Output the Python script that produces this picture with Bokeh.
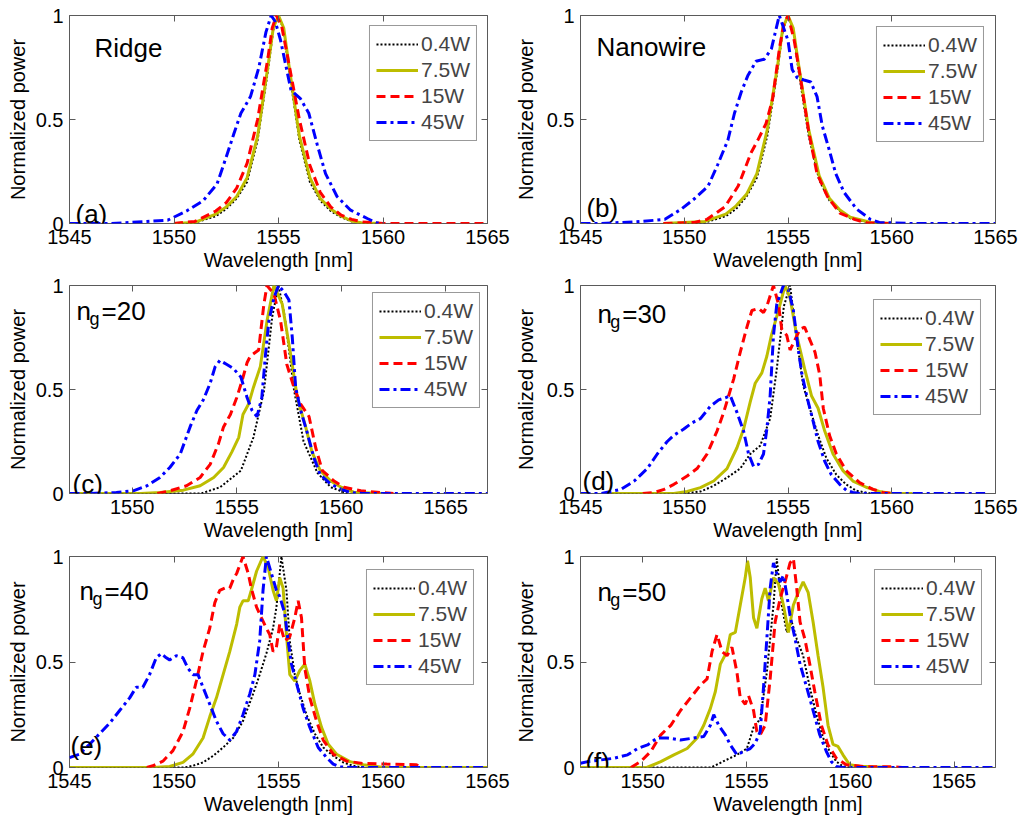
from bokeh.plotting import figure
from bokeh.layouts import column, row
from bokeh.models import Range1d, FixedTicker, LinearAxis, Legend, LegendItem, Label
from bokeh.embed import file_html
from bokeh.resources import INLINE

FONT = "Liberation Sans"
SERIES = ["0.4W", "7.5W", "15W", "45W"]
Y_TICKS = [0, 0.5, 1]
X_TICKS_A = [1545, 1550, 1555, 1560, 1565]
X_TICKS_B = [1550, 1555, 1560, 1565]

# ---------------- (a) Ridge ----------------
A_X_04 = [1550, 1551, 1552, 1552.5, 1553, 1553.5, 1554, 1554.5, 1554.75, 1555, 1555.25, 1555.5, 1556, 1556.5, 1557, 1557.5, 1558, 1558.5, 1559, 1560]
A_Y_04 = [0, 0.004, 0.035, 0.07, 0.12, 0.2, 0.4, 0.74, 0.93, 1.0, 0.93, 0.74, 0.4, 0.2, 0.11, 0.06, 0.03, 0.01, 0.002, 0]
A_X_75 = [1550, 1551, 1552, 1552.5, 1553, 1553.5, 1554, 1554.5, 1554.75, 1555, 1555.25, 1555.5, 1556, 1556.5, 1557, 1557.5, 1558, 1558.5, 1559, 1560]
A_Y_75 = [0, 0.005, 0.045, 0.08, 0.13, 0.22, 0.42, 0.76, 0.94, 1.0, 0.94, 0.76, 0.42, 0.22, 0.12, 0.07, 0.035, 0.012, 0.003, 0]
A_X_15 = [1550, 1551, 1552, 1552.5, 1553, 1553.5, 1554, 1554.5, 1554.7, 1554.9, 1555.15, 1555.4, 1556, 1556.5, 1557, 1557.5, 1558, 1558.5, 1559, 1560, 1565]
A_Y_15 = [0, 0.01, 0.06, 0.1, 0.17, 0.29, 0.5, 0.8, 0.94, 1.0, 0.95, 0.82, 0.5, 0.28, 0.15, 0.08, 0.04, 0.02, 0.008, 0, 0]
A_X_45 = [1545, 1547, 1548.7, 1549.7, 1550.6, 1551.4, 1552.06, 1552.5, 1552.86, 1553.2, 1553.66, 1554.06, 1554.4, 1554.65, 1554.85, 1555.1, 1555.6, 1556.05, 1556.45, 1556.85, 1557.25, 1557.8, 1558.45, 1559.25, 1559.7, 1560]
A_Y_45 = [0, 0, 0.01, 0.016, 0.06, 0.11, 0.19, 0.32, 0.43, 0.53, 0.61, 0.75, 0.92, 1.0, 0.97, 0.88, 0.64, 0.6, 0.53, 0.38, 0.24, 0.13, 0.064, 0.024, 0.003, 0]

# ---------------- (b) Nanowire ----------------
B_X_04 = [1549, 1551, 1552, 1552.5, 1553, 1553.5, 1554, 1554.5, 1554.75, 1555, 1555.25, 1555.5, 1556, 1556.5, 1557, 1557.5, 1558, 1559, 1560]
B_Y_04 = [0, 0.005, 0.035, 0.07, 0.13, 0.22, 0.42, 0.74, 0.93, 1.0, 0.93, 0.74, 0.42, 0.21, 0.11, 0.06, 0.025, 0.003, 0]
B_X_75 = [1549, 1551, 1552, 1552.5, 1553, 1553.5, 1554, 1554.5, 1554.75, 1555, 1555.25, 1555.5, 1556, 1556.5, 1557, 1557.5, 1558, 1559, 1560]
B_Y_75 = [0, 0.01, 0.045, 0.085, 0.14, 0.24, 0.45, 0.76, 0.94, 1.0, 0.94, 0.77, 0.45, 0.23, 0.12, 0.065, 0.03, 0.005, 0]
B_X_15 = [1549, 1550.5, 1551.1, 1551.96, 1552.6, 1553.22, 1553.54, 1553.94, 1554.26, 1554.6, 1554.8, 1555.0, 1555.3, 1555.6, 1556.0, 1556.4, 1556.9, 1557.5, 1558.2, 1558.8, 1560]
B_Y_15 = [0, 0.005, 0.02, 0.08, 0.18, 0.34, 0.4, 0.48, 0.6, 0.85, 0.96, 1.0, 0.88, 0.7, 0.44, 0.24, 0.13, 0.05, 0.02, 0.003, 0]
B_X_45 = [1545, 1546, 1547.95, 1549.07, 1549.87, 1550.5, 1551.15, 1551.6, 1552.1, 1552.42, 1552.74, 1553.06, 1553.46, 1553.86, 1554.2, 1554.58, 1555.0, 1555.2, 1555.45, 1555.77, 1556.1, 1556.4, 1556.65, 1556.97, 1557.3, 1557.7, 1558.3, 1558.97, 1559.4, 1561, 1565]
B_Y_45 = [0, 0, 0.01, 0.02, 0.07, 0.12, 0.18, 0.28, 0.4, 0.53, 0.63, 0.71, 0.78, 0.79, 0.84, 1.0, 0.88, 0.74, 0.7, 0.69, 0.68, 0.61, 0.47, 0.36, 0.24, 0.15, 0.07, 0.02, 0.005, 0, 0]

# ---------------- (c) ng=20 ----------------
C_X_04 = [1547, 1553.3, 1554.2, 1555.2, 1555.8, 1556.3, 1556.7, 1557.0, 1557.3, 1557.74, 1558.2, 1558.86, 1559.5, 1560.3]
C_Y_04 = [0, 0, 0.03, 0.11, 0.27, 0.49, 0.85, 1.0, 0.85, 0.5, 0.25, 0.1, 0.03, 0]
C_X_75 = [1547, 1550.4, 1551.33, 1552.45, 1553.25, 1553.9, 1554.37, 1554.77, 1555.1, 1555.3, 1555.57, 1555.8, 1556.13, 1556.45, 1556.78, 1557.18, 1557.58, 1557.9, 1558.3, 1558.6, 1559.0, 1559.5, 1560.0, 1560.6, 1562]
C_Y_75 = [0, 0, 0.005, 0.016, 0.037, 0.077, 0.125, 0.2, 0.27, 0.38, 0.43, 0.51, 0.61, 0.83, 1.0, 0.91, 0.67, 0.46, 0.32, 0.2, 0.11, 0.06, 0.03, 0.006, 0]
C_X_15 = [1551.2, 1551.8, 1552.6, 1553.25, 1553.73, 1554.13, 1554.37, 1554.7, 1555.0, 1555.25, 1555.5, 1555.65, 1556.05, 1556.3, 1556.45, 1556.78, 1557.1, 1557.4, 1557.74, 1558.06, 1558.46, 1558.78, 1559.1, 1559.66, 1560.14, 1560.94, 1561.9, 1562.5]
C_Y_15 = [0, 0.013, 0.037, 0.077, 0.14, 0.24, 0.32, 0.38, 0.46, 0.54, 0.63, 0.66, 0.69, 0.91, 1.0, 0.96, 0.83, 0.62, 0.51, 0.43, 0.37, 0.22, 0.11, 0.06, 0.03, 0.013, 0.005, 0]
C_X_45 = [1547, 1548, 1549.24, 1550.05, 1550.7, 1551.33, 1551.8, 1552.3, 1552.77, 1553.1, 1553.4, 1553.73, 1553.97, 1554.2, 1554.53, 1554.85, 1555.2, 1555.5, 1555.73, 1555.97, 1556.2, 1556.38, 1556.54, 1556.78, 1557.0, 1557.26, 1557.5, 1557.66, 1557.82, 1558.06, 1558.38, 1558.7, 1559.0, 1559.5, 1560.0, 1560.46, 1561, 1567]
C_Y_45 = [0, 0, 0.005, 0.013, 0.037, 0.077, 0.125, 0.19, 0.32, 0.4, 0.45, 0.53, 0.61, 0.64, 0.62, 0.6, 0.56, 0.46, 0.4, 0.37, 0.46, 0.67, 0.83, 0.94, 1.0, 0.97, 0.93, 0.75, 0.51, 0.4, 0.29, 0.17, 0.09, 0.045, 0.02, 0.005, 0, 0]

# ---------------- (d) ng=30 ----------------
D_X_04 = [1546.5, 1550, 1550.8, 1551.4, 1552.06, 1552.7, 1553.18, 1553.66, 1554.14, 1554.46, 1554.8, 1555.1, 1555.4, 1555.73, 1556.05, 1556.45, 1556.85, 1557.33, 1557.8, 1558.3, 1559]
D_Y_04 = [0, 0, 0.01, 0.036, 0.076, 0.12, 0.19, 0.23, 0.36, 0.6, 0.9, 1.0, 0.76, 0.52, 0.41, 0.28, 0.17, 0.09, 0.044, 0.013, 0]
D_X_75 = [1546.5, 1549.5, 1550.14, 1550.78, 1551.42, 1552.06, 1552.54, 1552.86, 1553.18, 1553.42, 1553.74, 1553.98, 1554.2, 1554.54, 1554.86, 1555.1, 1555.42, 1555.8, 1556.13, 1556.45, 1556.77, 1557.17, 1557.65, 1558.13, 1558.77, 1559.4, 1560, 1561]
D_Y_75 = [0, 0, 0.01, 0.028, 0.06, 0.12, 0.22, 0.31, 0.44, 0.53, 0.58, 0.66, 0.76, 0.88, 1.0, 0.94, 0.76, 0.6, 0.47, 0.41, 0.3, 0.19, 0.11, 0.06, 0.03, 0.01, 0, 0]
D_X_15 = [1548, 1548.55, 1549.03, 1549.5, 1550.14, 1550.62, 1551.1, 1551.58, 1551.9, 1552.14, 1552.38, 1552.7, 1553.02, 1553.26, 1553.58, 1553.82, 1553.98, 1554.3, 1554.54, 1554.7, 1554.94, 1555.1, 1555.34, 1555.58, 1555.8, 1556.05, 1556.3, 1556.53, 1556.7, 1557.0, 1557.33, 1557.8, 1558.45, 1559.1, 1559.57, 1560]
D_Y_15 = [0, 0.005, 0.02, 0.044, 0.084, 0.12, 0.19, 0.3, 0.39, 0.47, 0.55, 0.68, 0.8, 0.88, 0.89, 0.87, 0.9, 1.0, 0.91, 0.79, 0.76, 0.69, 0.74, 0.79, 0.8, 0.74, 0.68, 0.57, 0.41, 0.28, 0.19, 0.11, 0.052, 0.02, 0.005, 0]
D_X_45 = [1545, 1546, 1546.47, 1546.95, 1547.59, 1548.22, 1548.7, 1549.18, 1549.5, 1549.98, 1550.38, 1550.78, 1551.26, 1551.66, 1551.98, 1552.22, 1552.54, 1552.86, 1553.1, 1553.34, 1553.58, 1553.82, 1553.98, 1554.14, 1554.3, 1554.46, 1554.78, 1555.02, 1555.26, 1555.5, 1555.66, 1555.9, 1556.13, 1556.45, 1556.77, 1557.09, 1557.49, 1557.81, 1558.13, 1558.5, 1561, 1564.5]
D_Y_45 = [0, 0, 0.01, 0.02, 0.06, 0.12, 0.19, 0.25, 0.28, 0.31, 0.34, 0.36, 0.42, 0.45, 0.46, 0.47, 0.39, 0.3, 0.19, 0.13, 0.14, 0.19, 0.31, 0.47, 0.76, 0.91, 1.0, 0.98, 0.88, 0.69, 0.58, 0.47, 0.38, 0.25, 0.155, 0.09, 0.044, 0.016, 0.005, 0, 0, 0]

# ---------------- (e) ng=40 ----------------
E_X_04 = [1545, 1550.5, 1550.9, 1551.39, 1551.87, 1552.35, 1552.83, 1553.3, 1553.79, 1554.1, 1554.42, 1554.74, 1554.9, 1555.14, 1555.38, 1555.54, 1555.78, 1556.02, 1556.34, 1556.74, 1557.14, 1557.62, 1558.1, 1558.58, 1559]
E_Y_04 = [0, 0, 0.008, 0.024, 0.055, 0.095, 0.14, 0.22, 0.35, 0.44, 0.54, 0.66, 0.76, 1.0, 0.84, 0.6, 0.44, 0.35, 0.25, 0.16, 0.095, 0.055, 0.024, 0.008, 0]
E_X_75 = [1545, 1549, 1549.79, 1550.43, 1550.9, 1551.39, 1551.71, 1552.03, 1552.35, 1552.67, 1553.0, 1553.15, 1553.3, 1553.55, 1553.7, 1553.95, 1554.26, 1554.5, 1554.74, 1554.9, 1555.06, 1555.22, 1555.38, 1555.54, 1555.78, 1556.02, 1556.26, 1556.5, 1556.74, 1557.06, 1557.38, 1557.78, 1558.42, 1559.06, 1559.7, 1560, 1565]
E_Y_75 = [0, 0, 0.005, 0.024, 0.063, 0.14, 0.24, 0.33, 0.44, 0.55, 0.68, 0.76, 0.79, 0.79, 0.84, 0.93, 1.0, 0.95, 0.84, 0.79, 0.9, 0.85, 0.63, 0.44, 0.41, 0.46, 0.49, 0.41, 0.3, 0.19, 0.11, 0.063, 0.028, 0.013, 0.005, 0, 0]
E_X_15 = [1548.7, 1548.99, 1549.47, 1549.95, 1550.43, 1550.75, 1551.07, 1551.39, 1551.71, 1551.95, 1552.19, 1552.43, 1552.67, 1552.83, 1553.0, 1553.3, 1553.55, 1553.7, 1553.95, 1554.18, 1554.42, 1554.58, 1554.74, 1554.9, 1555.06, 1555.3, 1555.54, 1555.78, 1555.94, 1556.1, 1556.26, 1556.5, 1556.82, 1557.14, 1557.62, 1558.26, 1559.06, 1560.18, 1561.6, 1561.8]
E_Y_15 = [0, 0.008, 0.03, 0.08, 0.17, 0.28, 0.41, 0.55, 0.66, 0.78, 0.84, 0.85, 0.85, 0.89, 0.92, 1.0, 0.92, 0.85, 0.76, 0.71, 0.66, 0.63, 0.55, 0.57, 0.68, 0.6, 0.62, 0.71, 0.79, 0.71, 0.47, 0.33, 0.22, 0.13, 0.063, 0.03, 0.019, 0.016, 0.013, 0]
E_X_45 = [1545.0, 1545.48, 1545.96, 1546.44, 1546.92, 1547.4, 1547.88, 1548.19, 1548.51, 1548.83, 1549.15, 1549.39, 1549.63, 1549.79, 1550.11, 1550.43, 1550.67, 1550.91, 1551.15, 1551.39, 1551.71, 1552.03, 1552.35, 1552.67, 1552.99, 1553.3, 1553.63, 1553.87, 1554.1, 1554.26, 1554.42, 1554.66, 1554.9, 1555.06, 1555.3, 1555.46, 1555.62, 1555.86, 1556.18, 1556.5, 1556.9, 1557.3, 1557.62, 1557.94, 1558.5, 1565]
E_Y_45 = [0.047, 0.063, 0.11, 0.16, 0.21, 0.27, 0.33, 0.38, 0.38, 0.44, 0.52, 0.54, 0.52, 0.51, 0.53, 0.52, 0.47, 0.44, 0.44, 0.38, 0.3, 0.22, 0.16, 0.13, 0.17, 0.25, 0.35, 0.44, 0.6, 0.84, 1.0, 0.92, 0.84, 0.81, 0.73, 0.6, 0.49, 0.4, 0.28, 0.19, 0.095, 0.047, 0.016, 0.003, 0, 0]

# ---------------- (f) ng=50 ----------------
F_X_04 = [1547, 1553.3, 1553.9, 1554.54, 1555.02, 1555.34, 1555.66, 1555.98, 1556.3, 1556.46, 1556.7, 1556.94, 1557.18, 1557.42, 1557.73, 1558.05, 1558.37, 1558.69, 1559.01, 1559.33, 1559.65, 1560]
F_Y_04 = [0, 0, 0.03, 0.06, 0.09, 0.19, 0.23, 0.45, 0.77, 0.99, 0.77, 0.64, 0.69, 0.61, 0.53, 0.38, 0.25, 0.14, 0.076, 0.028, 0.005, 0]
F_X_75 = [1547, 1550.2, 1550.87, 1551.5, 1552.14, 1552.62, 1552.94, 1553.26, 1553.5, 1553.74, 1554.06, 1554.22, 1554.46, 1554.7, 1554.94, 1555.05, 1555.18, 1555.34, 1555.5, 1555.74, 1555.9, 1556.06, 1556.3, 1556.54, 1556.78, 1557.02, 1557.26, 1557.5, 1557.73, 1557.97, 1558.21, 1558.45, 1558.69, 1558.93, 1559.17, 1559.41, 1559.65, 1559.97, 1560.45, 1561.1, 1562]
F_Y_75 = [0, 0, 0.028, 0.06, 0.09, 0.14, 0.2, 0.28, 0.36, 0.49, 0.55, 0.63, 0.64, 0.77, 0.9, 0.98, 0.9, 0.71, 0.66, 0.8, 0.85, 0.79, 0.9, 0.87, 0.77, 0.64, 0.77, 0.83, 0.88, 0.83, 0.69, 0.53, 0.38, 0.2, 0.11, 0.1, 0.06, 0.013, 0.006, 0.003, 0]
F_X_15 = [1549.43, 1549.9, 1550.39, 1550.87, 1551.35, 1551.82, 1552.3, 1552.78, 1553.1, 1553.34, 1553.58, 1553.82, 1554.06, 1554.3, 1554.54, 1554.7, 1554.94, 1555.1, 1555.34, 1555.5, 1555.66, 1555.9, 1556.14, 1556.38, 1556.62, 1556.86, 1557.1, 1557.26, 1557.42, 1557.58, 1557.81, 1558.05, 1558.29, 1558.61, 1558.93, 1559.33, 1559.81, 1560.77, 1562.05, 1562.5]
F_Y_15 = [0, 0.028, 0.076, 0.155, 0.2, 0.27, 0.33, 0.39, 0.42, 0.55, 0.63, 0.55, 0.53, 0.57, 0.45, 0.33, 0.3, 0.34, 0.27, 0.17, 0.155, 0.2, 0.42, 0.69, 0.8, 0.88, 0.97, 0.99, 0.85, 0.69, 0.61, 0.49, 0.36, 0.2, 0.107, 0.044, 0.013, 0.003, 0.003, 0]
F_X_45 = [1547, 1547.35, 1547.99, 1548.63, 1549.27, 1549.75, 1550.23, 1550.7, 1551.19, 1551.82, 1552.46, 1552.94, 1553.26, 1553.42, 1553.66, 1553.98, 1554.22, 1554.54, 1554.86, 1555.18, 1555.42, 1555.66, 1555.82, 1555.98, 1556.14, 1556.3, 1556.46, 1556.62, 1556.78, 1556.94, 1557.1, 1557.34, 1557.58, 1557.9, 1558.21, 1558.53, 1558.85, 1559.09, 1559.33, 1559.6, 1567]
F_Y_45 = [0.02, 0.028, 0.036, 0.044, 0.06, 0.09, 0.107, 0.14, 0.14, 0.13, 0.14, 0.147, 0.2, 0.25, 0.2, 0.155, 0.107, 0.06, 0.076, 0.09, 0.115, 0.17, 0.38, 0.61, 0.85, 0.97, 0.92, 0.88, 0.91, 0.82, 0.72, 0.61, 0.49, 0.38, 0.27, 0.155, 0.076, 0.028, 0.005, 0, 0]

STYLES = [
    dict(line_color="black", line_width=2, line_dash="2 2"),
    dict(line_color="#bdbd00", line_width=3),
    dict(line_color="#ff0000", line_width=3, line_dash="9 5"),
    dict(line_color="#0000ff", line_width=3, line_dash="10 4 3 4"),
]
FRAME_C = "#5a5a5a"


def make_panel(xr, xticks, series, col, top, bottom, frame_h, legend_margin,
               title, tx, ty, letter, lx, ly):
    left = 69 if col == 0 else 66
    width = 511 if col == 0 else 508
    height = top + frame_h + bottom
    p = figure(width=width, height=height, output_backend="svg", toolbar_location=None,
               x_range=Range1d(*xr), y_range=Range1d(0, 1),
               min_border_left=left, min_border_right=24, min_border_top=top,
               min_border_bottom=bottom, background_fill_color="white",
               border_fill_color="white")
    fw = width - left - 24
    p.xgrid.visible = False
    p.ygrid.visible = False
    p.outline_line_color = FRAME_C
    p.outline_line_width = 1

    renderers = []
    for (xs, ys), st in zip(series, STYLES):
        renderers.append(p.line(xs, ys, **st))

    xa = p.xaxis[0]
    xa.ticker = FixedTicker(ticks=xticks)
    xa.axis_label = "Wavelength [nm]"
    ya = p.yaxis[0]
    ya.ticker = FixedTicker(ticks=Y_TICKS)
    ya.major_label_overrides = {0: "0", 0.5: "0.5", 1: "1"}
    ya.axis_label = "Normalized power"
    xa.major_label_standoff = 6
    xa.axis_label_standoff = 2
    ya.major_label_standoff = 6
    ya.axis_label_standoff = 4 if col == 0 else 7
    for ax in (xa, ya):
        ax.axis_line_color = None
        ax.major_tick_in = 6
        ax.major_tick_out = 0
        ax.minor_tick_in = 0
        ax.minor_tick_out = 0
        ax.major_tick_line_color = FRAME_C
        ax.major_label_text_font = FONT
        ax.major_label_text_font_size = "20px"
        ax.major_label_text_color = "black"
        ax.axis_label_text_font = FONT
        ax.axis_label_text_font_size = "20px"
        ax.axis_label_text_font_style = "normal"
        ax.axis_label_text_color = "black"

    # box ticks on top and right, without labels
    for loc, tk in (("above", xticks), ("right", Y_TICKS)):
        ax2 = LinearAxis(ticker=FixedTicker(ticks=tk), axis_line_color=None,
                         major_tick_in=6, major_tick_out=0, minor_tick_in=0,
                         minor_tick_out=0, major_tick_line_color=FRAME_C,
                         major_label_text_color=None, major_label_standoff=0)
        p.add_layout(ax2, loc)

    legend = Legend(items=[LegendItem(label=s, renderers=[r]) for s, r in zip(SERIES, renderers)],
                    location="top_right", margin=legend_margin,
                    label_text_font=FONT, label_text_font_size="21px",
                    glyph_width=42, glyph_height=24, label_height=24,
                    label_standoff=3, spacing=2, padding=6,
                    border_line_color="#333333", border_line_width=1,
                    background_fill_color="white", background_fill_alpha=1.0)
    p.add_layout(legend, "center")

    sx = (xr[1] - xr[0]) / fw
    sy = 1.0 / frame_h
    for txt, dx, dy, size in title:
        p.add_layout(Label(x=xr[0] + (tx + dx) * sx, y=1 - (ty + dy) * sy, text=txt,
                           text_font=FONT, text_font_size=size, text_color="black",
                           text_baseline="alphabetic"))
    p.add_layout(Label(x=xr[0] + lx * sx, y=ly * sy, text=letter,
                       text_font=FONT, text_font_size="26px", text_color="black",
                       text_baseline="alphabetic"))
    return p


def ng(num):
    return [("n", 0, 0, "26px"), ("g", 13, 8, "18px"), ("=" + num, 25, 0, "26px")]


pa = make_panel((1545, 1565), X_TICKS_A,
                [(A_X_04, A_Y_04), (A_X_75, A_Y_75), (A_X_15, A_Y_15), (A_X_45, A_Y_45)],
                0, 15, 53, 208, 10, [("Ridge", 0, 0, "26px")], 25, 32, "(a)", 6, 10)
pb = make_panel((1545, 1565), X_TICKS_A,
                [(B_X_04, B_Y_04), (B_X_75, B_Y_75), (B_X_15, B_Y_15), (B_X_45, B_Y_45)],
                1, 15, 53, 208, 11, [("Nanowire", 0, 0, "26px")], 16, 31, "(b)", 6, 16)
pc = make_panel((1547, 1567), X_TICKS_B,
                [(C_X_04, C_Y_04), (C_X_75, C_Y_75), (C_X_15, C_Y_15), (C_X_45, C_Y_45)],
                0, 9, 53, 208, 7, ng("20"), 7, 25, "(c)", 3, 10)
pd = make_panel((1545, 1565), X_TICKS_A,
                [(D_X_04, D_Y_04), (D_X_75, D_Y_75), (D_X_15, D_Y_15), (D_X_45, D_Y_45)],
                1, 9, 53, 208, 14, ng("30"), 17, 28, "(d)", 2, 13)
pe = make_panel((1545, 1565), X_TICKS_A,
                [(E_X_04, E_Y_04), (E_X_75, E_Y_75), (E_X_15, E_Y_15), (E_X_45, E_Y_45)],
                0, 10, 53, 211, 13, ng("40"), 10, 34, "(e)", 1, 22)
pf = make_panel((1547, 1567), X_TICKS_B,
                [(F_X_04, F_Y_04), (F_X_75, F_Y_75), (F_X_15, F_Y_15), (F_X_45, F_Y_45)],
                1, 10, 53, 211, 13, ng("50"), 17, 35, "(f)", 5, 6)

layout = column(row(pa, pb), row(pc, pd), row(pe, pf))
open("out.html", "w").write(file_html(layout, INLINE))
